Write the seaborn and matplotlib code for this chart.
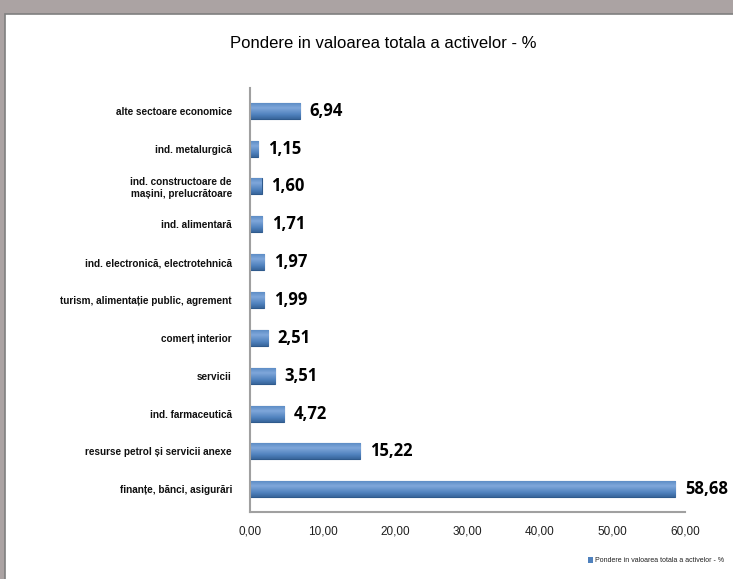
import matplotlib
matplotlib.use("Agg")
import matplotlib.pyplot as plt
import matplotlib.patches as mpatches
from matplotlib.colors import LinearSegmentedColormap
import numpy as np
import pandas as pd
import seaborn as sns

categories = [
    "alte sectoare economice",
    "ind. metalurgică",
    "ind. constructoare de\nmașini, prelucrătoare",
    "ind. alimentară",
    "ind. electronică, electrotehnică",
    "turism, alimentație public, agrement",
    "comerț interior",
    "servicii",
    "ind. farmaceutică",
    "resurse petrol și servicii anexe",
    "finanțe, bănci, asigurări",
]
values = [6.94, 1.15, 1.60, 1.71, 1.97, 1.99, 2.51, 3.51, 4.72, 15.22, 58.68]
xticks = [0, 10, 20, 30, 40, 50, 60]
title = "Pondere in valoarea totala a activelor - %"
series_name = "Pondere in valoarea totala a activelor - %"

sns.set_theme(style="white")
plt.rcParams['font.family'] = ['Liberation Sans', 'DejaVu Sans']

df = pd.DataFrame({"cat": categories, "val": values})

W, H = 733, 579
fig = plt.figure(figsize=(W / 100, H / 100), dpi=100, facecolor="#ABA3A3")
panel = mpatches.Rectangle((5 / W, -0.01), 1.0, 1 - 14 / H + 0.01, transform=fig.transFigure,
                           facecolor="white", edgecolor="#7F7F7F", linewidth=1.2, zorder=-5)
fig.patches.append(panel)

ax = fig.add_axes([250 / W, 67 / H, 435 / W, 424 / H])
ax.set_facecolor("none")
sns.barplot(data=df, x="val", y="cat", orient="h", color="#4F81BD", width=0.42,
            edgecolor="#2F5A8C", linewidth=0.8, ax=ax, saturation=1)

# cylinder-like shading
grad = np.linspace(0, 1, 64).reshape(-1, 1)
shade = 1 - np.abs(grad - 0.3) * 1.15
cmap = LinearSegmentedColormap.from_list("cyl", ["#2A5586", "#4F81BD", "#7FA7DA"])
for p in list(ax.patches):
    x0, y0 = p.get_x(), p.get_y()
    w, h = p.get_width(), p.get_height()
    im = ax.imshow(shade, cmap=cmap, aspect="auto", extent=[x0, x0 + w, y0 + h, y0],
                   zorder=p.get_zorder() + 0.1, vmin=0, vmax=1)
    im.set_clip_path(p)

ax.set_xlim(0, 60)
ax.set_ylim(10.6, -0.6)
ax.set_xticks(xticks)
ax.set_xticklabels([f"{t:.2f}".replace(".", ",") for t in xticks], fontsize=8.5, color="#202020")
ax.tick_params(axis="x", length=3, color="#888888", direction="out", pad=7)
ax.tick_params(axis="y", length=0, pad=13)
for lbl in ax.get_yticklabels():
    lbl.set_fontsize(7.2)
    lbl.set_fontweight("bold")
    lbl.set_color("#101010")
ax.set_xlabel("")
ax.set_ylabel("")
for s in ["top", "right"]:
    ax.spines[s].set_visible(False)
for s in ["left", "bottom"]:
    ax.spines[s].set_color("#A0A0A0")
    ax.spines[s].set_linewidth(1.5)

for i, v in enumerate(values):
    ax.text(v + 1.3, i, f"{v:.2f}".replace(".", ","), va="center", ha="left",
            fontsize=12, fontweight="bold", family=["Open Sans", "DejaVu Sans"], color="black")

fig.text(383 / W, 1 - 43 / H, title, ha="center", va="center", fontsize=12, color="black")

fig.patches.append(mpatches.Rectangle((588 / W, 1 - 563 / H), 5 / W, 6 / H,
                                      transform=fig.transFigure, facecolor="#4F81BD",
                                      edgecolor="none"))
fig.text(595 / W, 1 - 560 / H, series_name, ha="left", va="center", fontsize=5.0, color="#202020")

fig.savefig("out.png", dpi=100, facecolor=fig.get_facecolor())
